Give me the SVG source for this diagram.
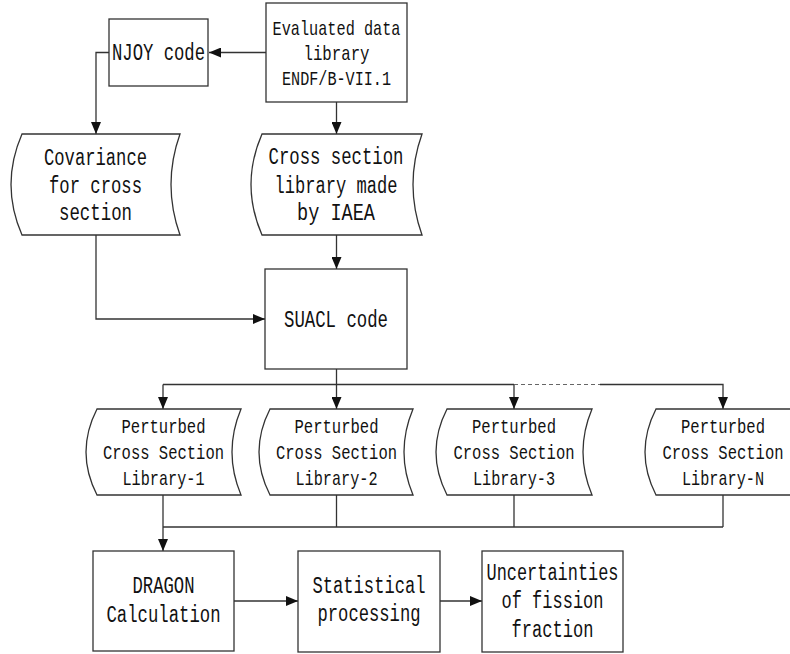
<svg xmlns="http://www.w3.org/2000/svg" width="790" height="654" viewBox="0 0 790 654">
<style>
.box{fill:#fff;stroke:#333;stroke-width:1.3}
.ln{fill:none;stroke:#333;stroke-width:1.3}
.dash{fill:none;stroke:#666;stroke-width:1;stroke-dasharray:4 3}
.t{font-family:"Liberation Mono",monospace;font-size:23px;fill:#111;text-anchor:middle}
.s{font-size:21px}
</style>
<defs>
<marker id="ah" markerUnits="userSpaceOnUse" markerWidth="12" markerHeight="10" refX="12" refY="5" orient="auto">
<path d="M0,0 L12,5 L0,10 Z" fill="#111"/>
</marker>
</defs>
<rect width="790" height="654" fill="#fff"/>
<g id="connectors">
<path class="ln" d="M266,52.5 H209" marker-end="url(#ah)"/>
<path class="ln" d="M109,52.5 H96 V134" marker-end="url(#ah)"/>
<path class="ln" d="M336.5,102 V134" marker-end="url(#ah)"/>
<path class="ln" d="M336.5,235 V269" marker-end="url(#ah)"/>
<path class="ln" d="M96,235 V319 H265" marker-end="url(#ah)"/>
<path class="ln" d="M336.5,369 V384.5"/>
<path class="ln" d="M163,384.5 H514"/>
<path class="ln" d="M163,384.5 V409" marker-end="url(#ah)"/>
<path class="ln" d="M336.5,384.5 V409" marker-end="url(#ah)"/>
<path class="ln" d="M514,384.5 V409" marker-end="url(#ah)"/>
<path class="dash" d="M514,384.5 H600"/>
<path class="ln" d="M600,384.5 H723 V409" marker-end="url(#ah)"/>
<path class="ln" d="M336.5,495 V527"/>
<path class="ln" d="M514,495 V527"/>
<path class="ln" d="M723,495 V527"/>
<path class="ln" style="stroke-width:1.6" d="M163,527 H723"/>
<path class="ln" d="M163,495 V551" marker-end="url(#ah)"/>
<path class="ln" d="M234,601 H298" marker-end="url(#ah)"/>
<path class="ln" d="M440,601 H482" marker-end="url(#ah)"/>
</g>
<g id="evaluated">
<rect class="box" x="266" y="3" width="141" height="99"/>
<text class="t s" x="336.5" y="35" textLength="128" lengthAdjust="spacingAndGlyphs">Evaluated data</text>
<text class="t s" x="336.5" y="60" textLength="66" lengthAdjust="spacingAndGlyphs">library</text>
<text class="t s" x="336.5" y="85" textLength="109" lengthAdjust="spacingAndGlyphs">ENDF/B-VII.1</text>
</g>
<g id="njoy">
<rect class="box" x="109" y="19" width="99" height="67"/>
<text class="t" x="158.5" y="60" textLength="93" lengthAdjust="spacingAndGlyphs">NJOY code</text>
</g>
<g id="covariance">
<path class="box" d="M22,134 L180,134 Q162,184.5 180,235 L22,235 Q0,184.5 22,134 Z"/>
<text class="t" x="95.5" y="165" textLength="103" lengthAdjust="spacingAndGlyphs">Covariance</text>
<text class="t" x="95.5" y="193" textLength="93" lengthAdjust="spacingAndGlyphs">for cross</text>
<text class="t" x="95.5" y="220" textLength="73" lengthAdjust="spacingAndGlyphs">section</text>
</g>
<g id="crosslib">
<path class="box" d="M262,134 L422,134 Q404,184.5 422,235 L262,235 Q240,184.5 262,134 Z"/>
<text class="t" x="336" y="164" textLength="135" lengthAdjust="spacingAndGlyphs">Cross section</text>
<text class="t" x="336" y="193" textLength="123" lengthAdjust="spacingAndGlyphs">library made</text>
<text class="t" x="336" y="220" textLength="78" lengthAdjust="spacingAndGlyphs">by IAEA</text>
</g>
<g id="suacl">
<rect class="box" x="265" y="269" width="142" height="100"/>
<text class="t" x="336" y="327" textLength="104" lengthAdjust="spacingAndGlyphs">SUACL code</text>
</g>
<g id="pert1">
<path class="box" d="M97,409 L241,409 Q223,452 241,495 L97,495 Q75,452 97,409 Z"/>
<text class="t s" x="163.5" y="433" textLength="84" lengthAdjust="spacingAndGlyphs">Perturbed</text>
<text class="t s" x="163.5" y="459" textLength="121" lengthAdjust="spacingAndGlyphs">Cross Section</text>
<text class="t s" x="163.5" y="485" textLength="82" lengthAdjust="spacingAndGlyphs">Library-1</text>
</g>
<g id="pert2">
<path class="box" d="M270,409 L413,409 Q395,452 413,495 L270,495 Q248,452 270,409 Z"/>
<text class="t s" x="336.5" y="433" textLength="84" lengthAdjust="spacingAndGlyphs">Perturbed</text>
<text class="t s" x="336.5" y="459" textLength="121" lengthAdjust="spacingAndGlyphs">Cross Section</text>
<text class="t s" x="336.5" y="485" textLength="82" lengthAdjust="spacingAndGlyphs">Library-2</text>
</g>
<g id="pert3">
<path class="box" d="M447,409 L592,409 Q574,452 592,495 L447,495 Q425,452 447,409 Z"/>
<text class="t s" x="514" y="433" textLength="84" lengthAdjust="spacingAndGlyphs">Perturbed</text>
<text class="t s" x="514" y="459" textLength="121" lengthAdjust="spacingAndGlyphs">Cross Section</text>
<text class="t s" x="514" y="485" textLength="82" lengthAdjust="spacingAndGlyphs">Library-3</text>
</g>
<g id="pertN">
<path class="box" d="M656,409 L800,409 Q782,452 800,495 L656,495 Q634,452 656,409 Z"/>
<text class="t s" x="723" y="433" textLength="84" lengthAdjust="spacingAndGlyphs">Perturbed</text>
<text class="t s" x="723" y="459" textLength="121" lengthAdjust="spacingAndGlyphs">Cross Section</text>
<text class="t s" x="723" y="485" textLength="82" lengthAdjust="spacingAndGlyphs">Library-N</text>
</g>
<g id="dragon">
<rect class="box" x="93" y="551" width="141" height="100"/>
<text class="t" x="163.5" y="593" textLength="62" lengthAdjust="spacingAndGlyphs">DRAGON</text>
<text class="t" x="163.5" y="622" textLength="114" lengthAdjust="spacingAndGlyphs">Calculation</text>
</g>
<g id="statistical">
<rect class="box" x="298" y="551" width="142" height="101"/>
<text class="t" x="369" y="593" textLength="113" lengthAdjust="spacingAndGlyphs">Statistical</text>
<text class="t" x="369" y="621" textLength="103" lengthAdjust="spacingAndGlyphs">processing</text>
</g>
<g id="uncertainties">
<rect class="box" x="482" y="551" width="141" height="101"/>
<text class="t" x="552.5" y="580" textLength="132" lengthAdjust="spacingAndGlyphs">Uncertainties</text>
<text class="t" x="552.5" y="608" textLength="102" lengthAdjust="spacingAndGlyphs">of fission</text>
<text class="t" x="552.5" y="637" textLength="82" lengthAdjust="spacingAndGlyphs">fraction</text>
</g>
</svg>
